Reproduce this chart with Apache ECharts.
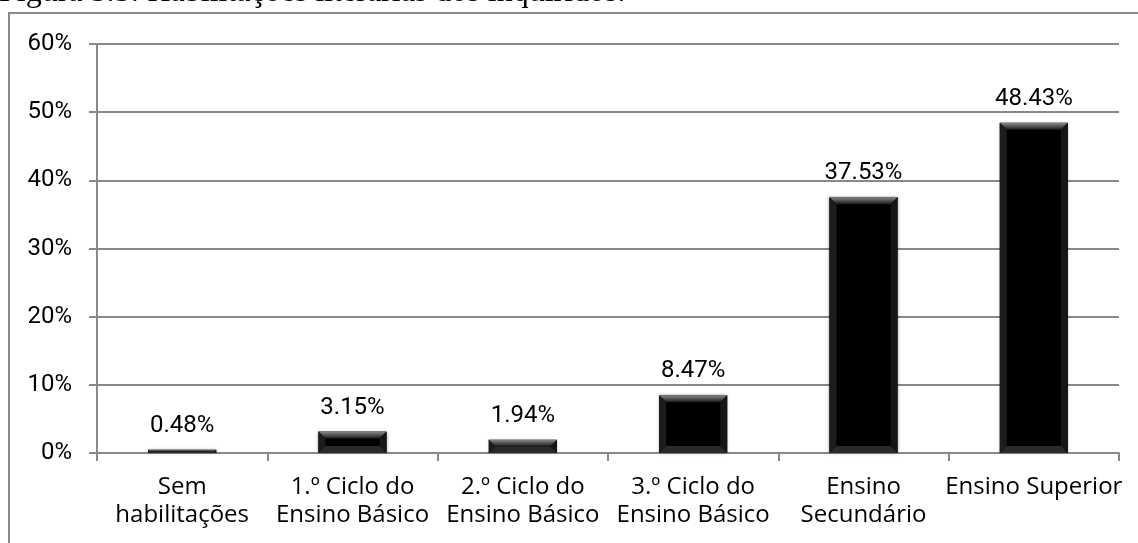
<!DOCTYPE html>
<html>
<head>
<meta charset="utf-8">
<script src="https://cdn.jsdelivr.net/npm/echarts@6/dist/echarts.min.js"></script>
<style>
  html, body { margin: 0; padding: 0; background: #fff; }
  #main { width: 1138px; height: 543px; }
</style>
</head>
<body>
<div id="main"></div>
<script>
// chart data
var categories = ['Sem\nhabilitações', '1.º Ciclo do\nEnsino Básico', '2.º Ciclo do\nEnsino Básico',
    '3.º Ciclo do\nEnsino Básico', 'Ensino\nSecundário', 'Ensino Superior'];
var percentages = [0.48, 3.15, 1.94, 8.47, 37.53, 48.43];
var yTicks = [0, 10, 20, 30, 40, 50, 60];

var captionText = 'Figura 5.5: Habilitações literárias dos inquiridos.';

var chart = echarts.init(document.getElementById('main'));

var grey = '#898989';
var labelFont = 'Open Sans';
var numFont = 'Roboto';

// draws the bevelled edges over each black bar
function renderBevel(params, api) {
    var top = api.coord([api.value(0), api.value(1)]);
    var base = api.coord([api.value(0), 0]);
    var w = api.size([1, 0])[0] * 0.4;
    var x0 = top[0] - w / 2, x1 = top[0] + w / 2;
    var y0 = top[1], y1 = base[1];
    var b = Math.min(7, (y1 - y0) / 2);
    if (b < 1) return;
    return {
        type: 'group',
        children: [{
            type: 'polygon',
            shape: { points: [[x0, y0], [x1, y0], [x1 - b, y0 + b], [x0 + b, y0 + b]] },
            style: {
                fill: new echarts.graphic.LinearGradient(0, 0, 0, 1, [
                    { offset: 0, color: '#8a8a8a' },
                    { offset: 1, color: '#1a1a1a' }
                ])
            }
        }, {
            type: 'polygon',
            shape: { points: [[x0, y0], [x0 + b, y0 + b], [x0 + b, y1 - b], [x0, y1]] },
            style: { fill: '#1c1c1c' }
        }, {
            type: 'polygon',
            shape: { points: [[x1, y0], [x1 - b, y0 + b], [x1 - b, y1 - b], [x1, y1]] },
            style: { fill: '#161616' }
        }, {
            type: 'polygon',
            shape: { points: [[x0, y1], [x0 + b, y1 - b], [x1 - b, y1 - b], [x1, y1]] },
            style: { fill: '#2a2a2a' }
        }]
    };
}

var option = {
    animation: false,
    backgroundColor: '#fff',
    textStyle: { fontFamily: labelFont },
    grid: { left: 97, right: 19, top: 44, bottom: 90 },
    graphic: [
        {
            type: 'text',
            x: -1,
            y: -7,
            style: {
                text: captionText,
                font: '32px "Liberation Serif", serif',
                fill: '#000',
                verticalAlign: 'middle'
            }
        },
        {
            // frame around chart area
            type: 'rect',
            shape: { x: 9, y: 13, width: 1200, height: 600 },
            style: { fill: 'none', stroke: grey, lineWidth: 2 },
            silent: true
        }
    ],
    xAxis: {
        type: 'category',
        data: categories,
        axisLine: { lineStyle: { color: grey, width: 2 } },
        axisTick: { show: true, length: 8, lineStyle: { color: grey, width: 2 } },
        axisLabel: {
            color: '#000',
            fontSize: 24,
            fontFamily: labelFont,
            lineHeight: 28,
            margin: 20,
            interval: 0
        }
    },
    yAxis: {
        type: 'value',
        min: 0,
        max: 60,
        interval: 10,
        axisLine: { show: true, lineStyle: { color: grey, width: 2 } },
        axisTick: { show: true, length: 8, lineStyle: { color: grey, width: 2 } },
        splitLine: { show: true, lineStyle: { color: grey, width: 2 } },
        axisLabel: {
            color: '#000',
            fontSize: 24,
            fontFamily: numFont,
            margin: 25,
            formatter: function(v) {
                return yTicks.indexOf(v) >= 0 ? v + '%' : '';
            }
        }
    },
    series: [{
        type: 'bar',
        data: percentages,
        barWidth: '40%',
        itemStyle: {
            color: '#000',
            shadowColor: 'rgba(0,0,0,0.35)',
            shadowBlur: 3
        },
        label: {
            show: true,
            position: 'top',
            distance: 12,
            color: '#000',
            fontSize: 24,
            fontFamily: numFont,
            formatter: function(p) {
                return p.value.toFixed(2) + '%';
            }
        }
    }, {
        type: 'custom',
        renderItem: renderBevel,
        data: percentages.map(function(v, i) { return [i, v]; }),
        silent: true,
        z: 3
    }]
};

chart.setOption(option);
</script>
</body>
</html>
